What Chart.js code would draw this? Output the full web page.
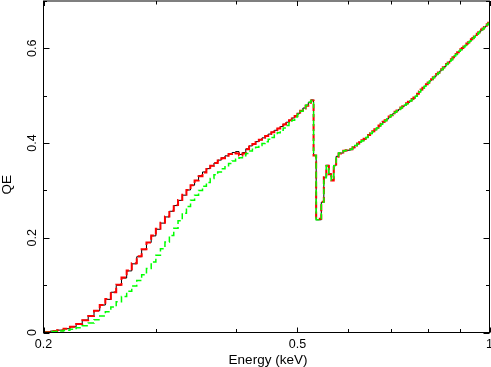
<!DOCTYPE html>
<html><head><meta charset="utf-8">
<script src="https://cdn.jsdelivr.net/npm/chart.js@4.4.1/dist/chart.umd.min.js"></script>
<style>html,body{margin:0;padding:0;background:#fff;overflow:hidden}</style>
</head><body>
<canvas id="c" width="491" height="367"></canvas>
<script>
// Energy bin edges (keV)
const energyEdges = [
0.200,0.205,0.210,0.215,0.220,0.225,0.230,0.235,0.240,0.245,
0.250,0.255,0.260,0.265,0.270,0.275,0.280,0.285,0.290,0.295,
0.300,0.305,0.310,0.315,0.320,0.325,0.330,0.335,0.340,0.345,
0.350,0.355,0.360,0.365,0.370,0.375,0.380,0.385,0.390,0.395,
0.400,0.405,0.410,0.415,0.420,0.425,0.430,0.435,0.440,0.445,
0.450,0.455,0.460,0.465,0.470,0.475,0.480,0.485,0.490,0.495,
0.500,0.505,0.510,0.515,0.520,0.525,0.530,0.535,0.540,0.545,
0.550,0.555,0.560,0.565,0.570,0.575,0.580,0.585,0.590,0.595,
0.600,0.605,0.610,0.615,0.620,0.625,0.630,0.635,0.640,0.645,
0.650,0.655,0.660,0.665,0.670,0.675,0.680,0.685,0.690,0.695,
0.700,0.705,0.710,0.715,0.720,0.725,0.730,0.735,0.740,0.745,
0.750,0.755,0.760,0.765,0.770,0.775,0.780,0.785,0.790,0.795,
0.800,0.805,0.810,0.815,0.820,0.825,0.830,0.835,0.840,0.845,
0.850,0.855,0.860,0.865,0.870,0.875,0.880,0.885,0.890,0.895,
0.900,0.905,0.910,0.915,0.920,0.925,0.930,0.935,0.940,0.945,
0.950,0.955,0.960,0.965,0.970,0.975,0.980,0.985,0.990,0.995,
1.000];

const qeBlack = [
0.001,0.003,0.005,0.008,0.012,0.018,0.026,0.035,0.046,0.058,
0.070,0.085,0.100,0.115,0.130,0.145,0.160,0.175,0.190,0.204,
0.218,0.231,0.244,0.256,0.268,0.279,0.290,0.301,0.311,0.321,
0.331,0.339,0.346,0.352,0.358,0.364,0.369,0.373,0.377,0.380,
0.382,0.376,0.380,0.388,0.394,0.398,0.403,0.407,0.411,0.415,
0.419,0.423,0.427,0.431,0.435,0.440,0.444,0.448,0.453,0.458,
0.463,0.468,0.474,0.480,0.486,0.491,0.374,0.238,0.238,0.275,
0.328,0.353,0.335,0.322,0.353,0.372,0.379,0.379,0.384,0.384,
0.385,0.386,0.390,0.395,0.398,0.402,0.405,0.408,0.412,0.416,
0.420,0.424,0.428,0.432,0.436,0.440,0.444,0.448,0.451,0.455,
0.459,0.462,0.465,0.468,0.471,0.474,0.477,0.480,0.483,0.486,
0.489,0.492,0.495,0.499,0.504,0.508,0.512,0.516,0.520,0.524,
0.527,0.531,0.534,0.538,0.541,0.545,0.548,0.552,0.555,0.559,
0.562,0.566,0.569,0.573,0.576,0.580,0.584,0.587,0.591,0.594,
0.597,0.600,0.603,0.606,0.609,0.612,0.615,0.618,0.621,0.624,
0.627,0.630,0.633,0.636,0.639,0.641,0.644,0.647,0.650,0.653];

const qeRed = [
0.001,0.003,0.005,0.008,0.012,0.018,0.026,0.035,0.046,0.058,
0.071,0.085,0.101,0.116,0.131,0.146,0.161,0.176,0.190,0.205,
0.219,0.232,0.245,0.257,0.269,0.280,0.291,0.301,0.311,0.321,
0.330,0.338,0.345,0.352,0.358,0.363,0.368,0.373,0.377,0.379,
0.378,0.374,0.378,0.387,0.393,0.398,0.402,0.407,0.411,0.415,
0.419,0.423,0.427,0.431,0.435,0.439,0.444,0.448,0.452,0.457,
0.462,0.468,0.473,0.479,0.485,0.490,0.374,0.240,0.240,0.276,
0.328,0.352,0.334,0.321,0.352,0.371,0.378,0.380,0.384,0.385,
0.386,0.387,0.391,0.395,0.399,0.402,0.406,0.409,0.413,0.417,
0.421,0.425,0.429,0.433,0.437,0.441,0.445,0.448,0.452,0.456,
0.459,0.463,0.466,0.469,0.472,0.475,0.478,0.481,0.484,0.487,
0.490,0.493,0.496,0.500,0.504,0.509,0.513,0.517,0.521,0.524,
0.528,0.532,0.535,0.539,0.542,0.546,0.549,0.553,0.556,0.560,
0.563,0.567,0.570,0.574,0.577,0.581,0.585,0.588,0.592,0.595,
0.598,0.601,0.604,0.607,0.610,0.613,0.616,0.619,0.622,0.625,
0.628,0.631,0.634,0.637,0.640,0.642,0.645,0.648,0.651,0.654];

const qeGreen = [
0.000,0.002,0.003,0.005,0.007,0.010,0.014,0.020,0.027,0.035,
0.044,0.054,0.065,0.076,0.087,0.098,0.110,0.122,0.135,0.149,
0.163,0.177,0.191,0.205,0.220,0.236,0.252,0.266,0.279,0.290,
0.300,0.309,0.317,0.325,0.333,0.339,0.346,0.352,0.357,0.362,
0.366,0.369,0.373,0.378,0.383,0.387,0.391,0.395,0.399,0.403,
0.408,0.412,0.417,0.422,0.427,0.432,0.437,0.443,0.448,0.455,
0.461,0.467,0.473,0.480,0.486,0.490,0.374,0.238,0.240,0.275,
0.327,0.352,0.334,0.322,0.352,0.372,0.379,0.380,0.384,0.385,
0.386,0.387,0.391,0.395,0.398,0.402,0.405,0.409,0.412,0.416,
0.420,0.424,0.428,0.432,0.436,0.440,0.444,0.447,0.451,0.455,
0.459,0.462,0.465,0.468,0.471,0.474,0.477,0.480,0.483,0.486,
0.489,0.492,0.495,0.499,0.504,0.508,0.512,0.516,0.520,0.524,
0.527,0.531,0.534,0.538,0.541,0.545,0.548,0.552,0.555,0.559,
0.562,0.566,0.569,0.573,0.576,0.580,0.584,0.587,0.591,0.594,
0.597,0.600,0.603,0.606,0.609,0.612,0.615,0.618,0.621,0.624,
0.627,0.630,0.633,0.636,0.639,0.641,0.644,0.647,0.650,0.653];

const xTickValues = [0.2,0.3,0.4,0.5,0.6,0.7,0.8,0.9,1];
const xLabelValues = [0.2,0.5,1];
const xLabelTexts = ['0.2','0.5','1'];
const yTickValues = [0,0.1,0.2,0.3,0.4,0.5,0.6,0.7];
const yLabelValues = [0,0.2,0.4,0.6];
const yLabelTexts = ['0','0.2','0.4','0.6'];
const xTitle = 'Energy (keV)';
const yTitle = 'QE';

function toSteps(vals){
  const pts = vals.map((v,i)=>({x:energyEdges[i], y:v}));
  pts.push({x:energyEdges[vals.length], y:vals[vals.length-1]});
  return pts;
}

const FONT = '"Liberation Sans", Arial, Helvetica, sans-serif';

const framePlugin = {
  id:'frame',
  afterDatasetsDraw(chart){
    const {ctx, chartArea:a, scales:{x,y}} = chart;
    ctx.save();
    ctx.strokeStyle = '#000';
    ctx.lineWidth = 1;
    ctx.strokeRect(a.left, a.top, a.right-a.left, a.bottom-a.top);
    ctx.beginPath();
    xTickValues.forEach(v=>{
      const px = Math.round(x.getPixelForValue(v))+0.5;
      const len = xLabelValues.includes(v) ? 5 : 3.5;
      ctx.moveTo(px, a.bottom); ctx.lineTo(px, a.bottom-len);
      ctx.moveTo(px, a.top); ctx.lineTo(px, a.top+len);
    });
    yTickValues.forEach(v=>{
      const py = Math.round(y.getPixelForValue(v))+0.5;
      const len = yLabelValues.some(l=>Math.abs(l-v)<1e-9) ? 6 : 3.5;
      ctx.moveTo(a.left, py); ctx.lineTo(a.left+len, py);
      ctx.moveTo(a.right, py); ctx.lineTo(a.right-len, py);
    });
    ctx.stroke();

    ctx.fillStyle = '#000';
    ctx.font = '12.5px ' + FONT;
    ctx.textAlign = 'center';
    ctx.textBaseline = 'alphabetic';
    xLabelValues.forEach((v,i)=>{
      ctx.fillText(xLabelTexts[i], x.getPixelForValue(v), a.bottom+15);
    });
    yLabelValues.forEach((v,i)=>{
      ctx.save();
      ctx.translate(a.left-8, y.getPixelForValue(v));
      ctx.rotate(-Math.PI/2);
      ctx.fillText(yLabelTexts[i], 0, 0);
      ctx.restore();
    });
    ctx.font = '13.5px ' + FONT;
    ctx.fillText(xTitle, (a.left+a.right)/2 + 1.5, a.bottom+31.5);
    ctx.save();
    ctx.translate(11, (a.top+a.bottom)/2 + 18);
    ctx.rotate(-Math.PI/2);
    ctx.fillText(yTitle, 0, 0);
    ctx.restore();
    ctx.restore();
  }
};

new Chart(document.getElementById('c'), {
  type:'line',
  data:{
    datasets:[
      {label:'green', data:toSteps(qeGreen), borderColor:'#00ff00', borderWidth:1.5, borderDash:[6,3], stepped:'before', pointRadius:0, order:0},
      {label:'red', data:toSteps(qeRed), borderColor:'#ff0000', borderWidth:2, borderDash:[7,3], stepped:'before', pointRadius:0, order:1},
      {label:'black', data:toSteps(qeBlack), borderColor:'#000000', borderWidth:1, stepped:'before', pointRadius:0, order:2}
    ]
  },
  options:{
    responsive:false,
    animation:false,
    devicePixelRatio:1,
    layout:{padding:{left:43.5, right:1.5, top:1, bottom:34.5}},
    plugins:{legend:{display:false}, tooltip:{enabled:false}},
    scales:{
      x:{type:'logarithmic', min:0.2, max:1, display:false},
      y:{type:'linear', min:0, max:0.7, display:false}
    }
  },
  plugins:[framePlugin]
});
</script>
</body></html>
